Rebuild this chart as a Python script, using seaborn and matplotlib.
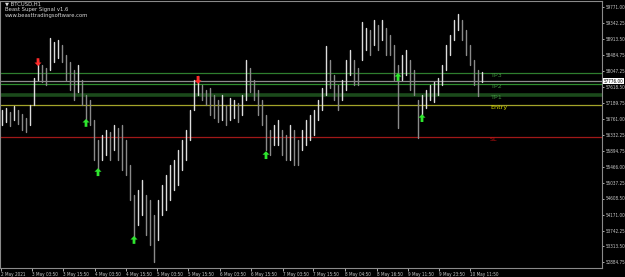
import numpy as np
import pandas as pd
import matplotlib
matplotlib.use("Agg")
import matplotlib.pyplot as plt
from matplotlib import font_manager
import seaborn as sns

# ---------------- data ----------------
highs = [57000, 57050, 56940, 57110, 57000, 56890, 56780, 57130, 57860, 58350,
         58210, 58130, 58940, 58830, 58890, 58750, 58480, 58290, 58080, 58210,
         57810, 57400, 57270, 56730, 56190, 56320, 56460, 56400, 56590, 56510,
         56590, 56190, 55510, 54700, 54840, 55110, 54700, 54570, 54160, 54570,
         54970, 55240, 55510, 55650, 55920, 56190, 56460, 57000, 57810, 57920,
         57670, 57540, 57590, 57400, 57270, 57400, 57130, 57320, 57270, 57190,
         57400, 58350, 58130, 57810, 57540, 57270, 56860, 56460, 56590, 56730,
         56460, 56320, 56590, 56460, 56190, 56460, 56730, 56860, 57000, 57270,
         57590, 58730, 58350, 57940, 57670, 57810, 58350, 58620, 58350, 58130,
         59370, 59210, 59160, 59430, 59290, 59430, 59210, 59020, 58750, 58210,
         58480, 58620, 58350, 58080, 57270, 57400, 57540, 57670, 57750, 57860,
         58210, 58750, 59020, 59430, 59590, 59430, 59160, 58750, 58350, 58080,
         58030]
lows = [56590, 56670, 56570, 56730, 56620, 56460, 56400, 56590, 57130, 57810,
        57760, 57670, 58080, 58290, 58400, 58290, 57810, 57540, 57270, 57480,
        57130, 56730, 56590, 55650, 55380, 55650, 55780, 55650, 55920, 55650,
        55380, 55240, 54570, 53490, 53890, 54160, 53620, 53350, 52890, 53490,
        54160, 54300, 54570, 54840, 54970, 55380, 55650, 56190, 57000, 57400,
        57270, 57130, 56860, 56780, 56670, 56730, 56590, 56730, 56780, 56670,
        56860, 57270, 57480, 57270, 56860, 56590, 55920, 55780, 56050, 56050,
        55780, 55650, 55650, 55510, 55510, 55920, 56050, 56190, 56320, 56730,
        57000, 57400, 57590, 57270, 57000, 57270, 57540, 57940, 57670, 57670,
        58350, 58620, 58480, 58750, 58620, 58890, 58480, 58480, 57810, 56510,
        57810, 57940, 57540, 57400, 56240, 56860, 57050, 57270, 57210, 57400,
        57670, 58080, 58480, 58890, 59160, 58890, 58480, 58210, 57670, 57380,
        57750]

sell_bars = [9, 49]
sell_prices = [58290, 57810]
buy_bars = [21, 24, 33, 66, 99, 105]
buy_prices = [56650, 55320, 53490, 55780, 57890, 56780]

level_names = ["TP3", "TP2", "TP1", "Entry", "SL"]
level_prices = [57992, 57695, 57415, 57129, 56266]
bid_price = 57776
bid_label = "57776.00"

y_tick_values = [59771.00, 59342.25, 58913.50, 58484.75, 58047.25, 57618.50,
                 57189.75, 56761.00, 56332.25, 55894.75, 55466.00, 55037.25,
                 54608.50, 54171.00, 53742.25, 53313.50, 52884.75]
x_tick_bars = [-0.25, 7.5, 15.25, 23.25, 31, 38.75, 46.5, 54.5, 62.25, 70.25,
               77.75, 85.75, 93.75, 101.5, 109.25, 117]
x_tick_labels = ["2 May 2021", "3 May 03:50", "3 May 15:50", "4 May 03:50",
                 "4 May 15:50", "5 May 03:50", "5 May 15:50", "6 May 03:50",
                 "6 May 15:50", "7 May 03:50", "7 May 15:50", "8 May 04:50",
                 "8 May 16:50", "9 May 11:50", "9 May 23:50", "10 May 11:50"]
header_lines = ["BTCUSD,H1", "Beast Super Signal v1.6",
                "www.beasttradingsoftware.com"]

# ---------------- build frames ----------------
highs = np.array(highs, float)
lows = np.array(lows, float)
mids = (highs + lows) / 2
dirs = np.where(np.diff(mids, prepend=mids[0]) >= 0, "up", "down")
bars = np.arange(len(highs))
bar_df = pd.DataFrame({
    "bar": np.repeat(bars, 2),
    "price": np.column_stack([lows, highs]).ravel(),
    "dir": np.repeat(dirs, 2),
})
sell_df = pd.DataFrame({"bar": sell_bars, "price": sell_prices})
buy_df = pd.DataFrame({"bar": buy_bars, "price": buy_prices})

# ---------------- style ----------------
sns.set_theme(style="dark")
installed = {f.name for f in font_manager.fontManager.ttflist}
small_font = "Liberation Sans Narrow" if "Liberation Sans Narrow" in installed else "DejaVu Sans"
plt.rcParams["font.family"] = [small_font, "DejaVu Sans"]
tick_fp = font_manager.FontProperties(family=small_font, stretch="condensed",
                                      size=3.3)

fig = plt.figure(figsize=(6.25, 2.77), dpi=100, facecolor="black")
ax = fig.add_axes([0.0, 9 / 277, 602 / 625, 267 / 277])
ax.set_facecolor("black")
for s in ax.spines.values():
    s.set_color("#8a8a8a")
    s.set_linewidth(0.8)
ax.grid(False)

level_colors = ["#2e7d2e", "#2f8f2f", "#1b4a1b", "#a3a32a", "#a01818"]
level_widths = [0.9, 0.9, 2.6, 0.9, 0.9]
text_colors = ["#3d8f3d", "#3d8f3d", "#3d8f3d", "#d6d600", "#c81010"]
for p, c, w in zip(level_prices, level_colors, level_widths):
    ax.axhline(p, color=c, lw=w, zorder=1)
ax.axhline(bid_price, color="#8c8c8c", lw=0.9, zorder=1)

sns.lineplot(data=bar_df, x="bar", y="price", units="bar", estimator=None,
             hue="dir", palette={"up": "#dcdcdc", "down": "#8a8a8a"},
             sort=False, legend=False, lw=1.0, ax=ax, zorder=2)

up_arrow = [(0, 1), (0.9, 0.1), (0.35, 0.1), (0.35, -1), (-0.35, -1),
            (-0.35, 0.1), (-0.9, 0.1), (0, 1)]
down_arrow = [(x, -y) for x, y in up_arrow]
sns.scatterplot(data=buy_df, x="bar", y="price", marker=up_arrow, s=32,
                color="#2ee62e", edgecolor="none", ax=ax, zorder=4)
sns.scatterplot(data=sell_df, x="bar", y="price", marker=down_arrow, s=32,
                color="#ff2a2a", edgecolor="none", ax=ax, zorder=4)

for name, p, c in zip(level_names, level_prices, text_colors):
    ax.text(122, p, name, color=c, fontsize=4.6, va="top", ha="left",
            zorder=5, family=[small_font, "DejaVu Sans"])

ax.set_xlim(-0.5, 150)
ax.set_ylim(52732, 59941)
ax.set_xlabel("")
ax.set_ylabel("")

ax.yaxis.tick_right()
ax.set_yticks(y_tick_values)
ax.set_yticklabels([f"{v:.2f}" for v in y_tick_values])
ax.tick_params(axis="y", colors="#c8c8c8", length=1.5, width=0.6, pad=0.8,
               right=True, left=False)
for t in ax.get_yticklabels():
    t.set_fontproperties(tick_fp)
ax.set_xticks(x_tick_bars)
ax.set_xticklabels(x_tick_labels, ha="left")
ax.tick_params(axis="x", colors="#c8c8c8", length=2, width=0.6, pad=1.0,
               bottom=True)
for t in ax.get_xticklabels():
    t.set_fontproperties(tick_fp)

ax.annotate(bid_label, xy=(1.0, bid_price), xycoords=("axes fraction", "data"),
            xytext=(1.0, 0), textcoords="offset points",
            fontproperties=tick_fp, color="black", va="center", ha="left",
            bbox=dict(boxstyle="square,pad=0.15", fc="white", ec="none"),
            annotation_clip=False)

for k, line in enumerate(header_lines):
    prefix = "\u25bc " if k == 0 else ""
    fig.text(5 / 625, 1 - (4 + 5.5 * k) / 277, prefix + line,
             color="#d8d8d8", fontsize=3.8, va="center", ha="left",
             family=["DejaVu Sans"] if k == 0 else [small_font, "DejaVu Sans"])

fig.savefig("out.png", dpi=100, facecolor="black")
